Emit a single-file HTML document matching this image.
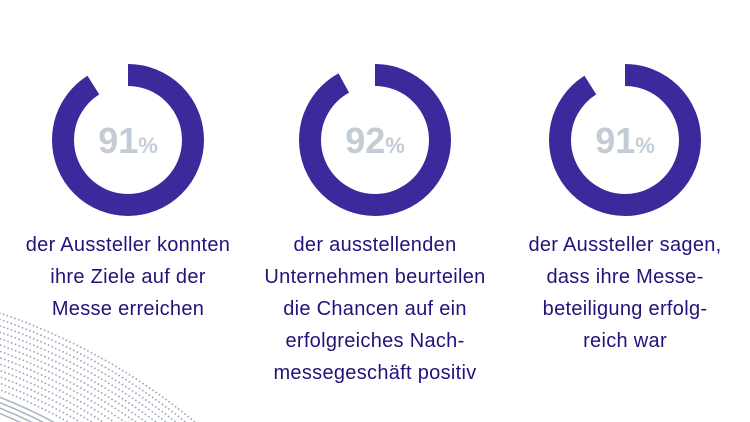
<!DOCTYPE html>
<html><head><meta charset="utf-8"><style>
html,body{margin:0;padding:0;background:#fff;width:750px;height:422px;overflow:hidden;}
body{position:relative;font-family:"Liberation Sans",sans-serif;}
.t{position:absolute;top:229px;width:260px;text-align:center;color:#22137a;font-size:20px;line-height:32px;letter-spacing:0.3px;}
svg{display:block}
</style></head><body>
<svg width="750" height="422" style="position:absolute;left:0;top:0">
<g fill="none" stroke="#9aa8b8" stroke-width="1.6" stroke-dasharray="1.6 2.4">
<circle cx="-200" cy="900" r="620"/><circle cx="-200" cy="900" r="614"/><circle cx="-200" cy="900" r="608"/><circle cx="-200" cy="900" r="602"/><circle cx="-200" cy="900" r="596"/><circle cx="-200" cy="900" r="590"/><circle cx="-200" cy="900" r="584"/><circle cx="-200" cy="900" r="578"/><circle cx="-200" cy="900" r="572"/><circle cx="-200" cy="900" r="566"/><circle cx="-200" cy="900" r="560"/><circle cx="-200" cy="900" r="554"/><circle cx="-200" cy="900" r="548"/>
</g>
<g fill="none" stroke="#a8b4c2" stroke-width="1.5">
<circle cx="-200" cy="900" r="541"/><circle cx="-200" cy="900" r="536"/><circle cx="-200" cy="900" r="531"/><circle cx="-200" cy="900" r="526"/>
</g>
<g fill="none" stroke="#3a2a9c" stroke-width="22">
<circle cx="128" cy="140" r="65" stroke-dasharray="371.7 36.7" transform="rotate(-90 128 140)"/>
<circle cx="375" cy="140" r="65" stroke-dasharray="375.7 32.7" transform="rotate(-90 375 140)"/>
<circle cx="625" cy="140" r="65" stroke-dasharray="371.7 36.7" transform="rotate(-90 625 140)"/>
</g>
<g fill="#c3cbd5" font-family="Liberation Sans" font-weight="bold" text-anchor="middle">
<text x="128" y="153"><tspan font-size="36">91</tspan><tspan font-size="22">%</tspan></text>
<text x="375" y="153"><tspan font-size="36">92</tspan><tspan font-size="22">%</tspan></text>
<text x="625" y="153"><tspan font-size="36">91</tspan><tspan font-size="22">%</tspan></text>
</g>
</svg>
<div class="t" style="left:-2px">der Aussteller konnten<br>ihre Ziele auf der<br>Messe erreichen</div>
<div class="t" style="left:245px">der ausstellenden<br>Unternehmen beurteilen<br>die Chancen auf ein<br>erfolgreiches Nach-<br>messegeschäft positiv</div>
<div class="t" style="left:495px">der Aussteller sagen,<br>dass ihre Messe-<br>beteiligung erfolg-<br>reich war</div>
</body></html>
